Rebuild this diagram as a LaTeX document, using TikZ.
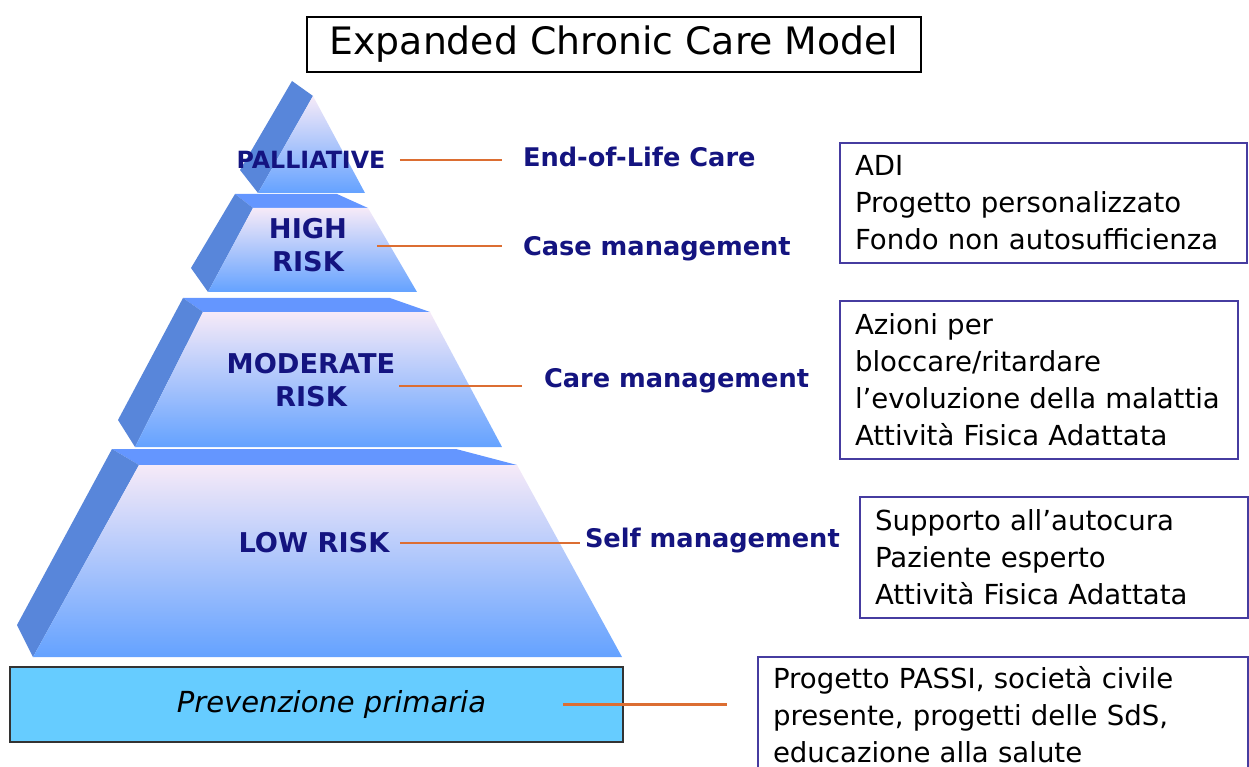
\documentclass[tikz,border=0pt]{standalone}
\usepackage{fontspec}
\setmainfont{DejaVu Sans}
\usetikzlibrary{positioning}
\usetikzlibrary{shapes,calc}
\definecolor{labnavy}{RGB}{20,20,128}
\definecolor{linkorange}{RGB}{220,110,50}
\definecolor{boxblue}{RGB}{70,60,160}
\definecolor{sideblue}{RGB}{88,134,218}
\definecolor{topblue}{RGB}{100,150,255}
\definecolor{facetop}{RGB}{246,234,248}
\definecolor{facemid}{RGB}{140,195,255}
\definecolor{facebot}{RGB}{100,162,255}
\definecolor{prevfill}{RGB}{102,204,255}
\tikzset{
    % orange connector between levels
    link/.style={
           draw=linkorange,
           line width=1.2pt}
}
\newcommand{\notefont}{\fontsize{15.7}{21}\selectfont\hyphenpenalty 10000\relax}

\begin{document}
\begin{tikzpicture}[x=0.02cm, y=-0.02cm, outer sep=0pt]
\tikzstyle{titlebox}=[draw=black, line width=0.9pt, minimum width=12.28cm, minimum height=1.1cm,
    font=\fontsize{21.5}{25}\selectfont]
%
\tikzstyle{tierlab}=[text=labnavy, inner sep=0pt, align=center,
    font=\bfseries\fontsize{15.5}{18.8}\selectfont]
%
\tikzstyle{carelab}=[text=labnavy, inner sep=0pt, anchor=west,
    font=\bfseries\fontsize{14.6}{17}\selectfont]
%
\tikzstyle{notebox}=[draw=boxblue, line width=1.1pt, anchor=north west, align=left,
    inner xsep=0.3cm, font=\notefont]
%
\tikzstyle{prevbox}=[draw=black!80, fill=prevfill, line width=1.1pt, minimum width=12.26cm,
    minimum height=1.5cm, font=\itshape\fontsize{16.5}{19}\selectfont]
%
\tikzstyle{sideface}=[fill=sideblue]
\tikzstyle{topface}=[fill=topblue]
\tikzstyle{frontface}=[top color=facetop, middle color=facemid, bottom color=facebot]

\useasboundingbox (0,0) rectangle (1249,767);

\node[titlebox] (title) at (614,44.5) {Expanded Chronic Care Model};

% pyramid, top to bottom
\fill[sideface] (292,81) -- (313,96) -- (258,193) -- (240,170) -- cycle;
\shade[frontface] (313,96) -- (365,193) -- (258,193) -- cycle;

\fill[topface] (235,194) -- (337,194) -- (368,208) -- (253,208) -- cycle;
\fill[sideface] (235,194) -- (253,208) -- (208,292) -- (191,268) -- cycle;
\shade[frontface] (253,208) -- (368,208) -- (417,292) -- (208,292) -- cycle;

\fill[topface] (183,298) -- (390,298) -- (430,312) -- (203,312) -- cycle;
\fill[sideface] (183,298) -- (203,312) -- (135,447) -- (118,420) -- cycle;
\shade[frontface] (203,312) -- (430,312) -- (502,447) -- (135,447) -- cycle;

\fill[topface] (112,449) -- (456,449) -- (517,465) -- (139,465) -- cycle;
\fill[sideface] (112,449) -- (139,465) -- (33,657) -- (17,625) -- cycle;
\shade[frontface] (139,465) -- (517,465) -- (622,657) -- (33,657) -- cycle;

\node[tierlab, font=\bfseries\fontsize{13.5}{16}\selectfont] (pal) at (311,160) {PALLIATIVE};
\node[tierlab] (high) at (308,245) {HIGH\\RISK};
\node[tierlab] (mod) at (311,380) {MODERATE\\RISK};
\node[tierlab] (low) at (314,543) {LOW RISK};

\node[prevbox] (prev) at (316.5,704.5) {\hspace*{0.6cm}Prevenzione primaria};

\node[carelab] (eol) at (523,157) {End-of-Life Care};
\node[carelab] (case) at (523,249) {Case management};
\node[carelab] (caremg) at (544,381) {Care management};
\node[carelab] (self) at (585,541) {Self management};

\node[notebox, minimum width=8.14cm, minimum height=2.4cm, text width=7.54cm]
    (adi) at (840,143) {ADI\\Progetto personalizzato\\Fondo non autosufficienza};
\node[notebox, minimum width=7.96cm, minimum height=3.16cm, text width=7.36cm]
    (azioni) at (840,301) {Azioni per\\bloccare/ritardare\\l’evoluzione della malattia\\Attività Fisica Adattata};
\node[notebox, minimum width=7.76cm, minimum height=2.42cm, text width=7.16cm]
    (supporto) at (860,497) {Supporto all’autocura\\Paziente esperto\\Attività Fisica Adattata};
\node[notebox, minimum width=9.8cm, minimum height=2.3cm, text width=9.2cm]
    (passi) at (758,657) {Progetto PASSI, società civile\\presente, progetti delle SdS,\\educazione alla salute};

\draw[link, shorten <=0.29cm, shorten >=0.42cm] (pal.east) -- (pal.east -| eol.west);
\draw[link, shorten <=0.6cm, shorten >=0.42cm] ([yshift=-0.02cm]high.east) -- ([yshift=-0.02cm]high.east -| case.west);
\draw[link, shorten <=0.08cm, shorten >=0.44cm] ([yshift=-0.12cm]mod.east) -- ([yshift=-0.12cm]mod.east -| caremg.west);
\draw[link, shorten <=0.22cm, shorten >=0.1cm] (low.east) -- (low.east -| self.west);
\draw[link, shorten <=-1.2cm, shorten >=0.62cm] (prev.east) -- (prev.east -| passi.west);

\end{tikzpicture}
\end{document}
